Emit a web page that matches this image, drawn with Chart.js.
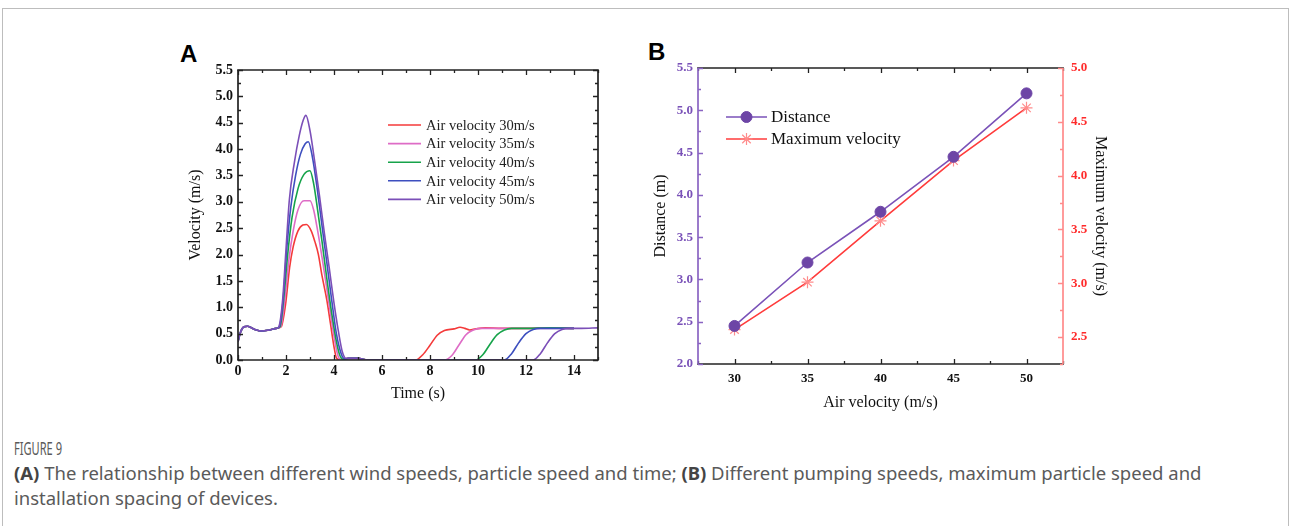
<!DOCTYPE html>
<html>
<head>
<meta charset="utf-8">
<script src="https://cdn.jsdelivr.net/npm/chart.js@4.4.1/dist/chart.umd.min.js"></script>
<style>
  body { margin: 0; width: 1290px; height: 526px; overflow: hidden; position: relative; background: #fff; }
  .frame { position: absolute; left: 2px; top: 8px; width: 1285px; height: 560px; border: 1px solid #bdbdbd; }
  .panel { position: absolute; font-family: 'Liberation Sans', Arial, sans-serif; font-weight: bold; font-size: 24px; color: #000; line-height: 1; }
  canvas { position: absolute; }
  .caption { position: absolute; left: 14px; top: 435px; color: #5a5a5a; font-family: 'Noto Sans', sans-serif; font-size: 18.5px; line-height: 25px; }
  .caption .fig { display: inline-block; font-size: 18.5px; transform: scaleX(0.6); transform-origin: 0 50%; }
  .caption b { color: #444; }
</style>
</head>
<body>
<div class="frame"></div>
<div class="panel" style="left:180px; top:42px;">A</div>
<div class="panel" style="left:648px; top:40px;">B</div>
<canvas id="chartA" width="450" height="380" style="left:170px; top:40px;"></canvas>
<canvas id="chartB" width="500" height="380" style="left:640px; top:40px;"></canvas>
<div class="caption">
  <div class="fig">FIGURE 9</div>
  <div><b>(A)</b> The relationship between different wind speeds, particle speed and time; <b>(B)</b> Different pumping speeds, maximum particle speed and<br>installation spacing of devices.</div>
</div>
<script>
// ---- panel A: particle velocity over time, one curve per air velocity ----
const namesA = ['Air velocity 30m/s', 'Air velocity 35m/s', 'Air velocity 40m/s', 'Air velocity 45m/s', 'Air velocity 50m/s'];

const t30 = [0, 0.1, 0.25, 0.4, 0.7, 1.0, 1.3, 1.6, 1.8, 1.98, 2.15, 2.3, 2.5, 2.7, 2.85, 3.05, 3.2, 3.35, 3.5, 3.7, 3.85, 4.0, 4.1, 4.25, 4.6, 5.0, 5.4, 6.0, 7.0, 7.4, 7.7, 8.0, 8.3, 8.6, 9.0, 9.25, 9.45, 9.65, 9.9, 10.3, 11.0, 12.0, 13.0, 14.0];
const v30 = [0.35, 0.52, 0.63, 0.64, 0.58, 0.55, 0.57, 0.6, 0.63, 1.05, 1.75, 2.15, 2.45, 2.56, 2.57, 2.45, 2.25, 2.0, 1.6, 1.14, 0.7, 0.25, 0.04, 0, 0.03, 0.03, 0, 0, 0, 0, 0.1, 0.28, 0.47, 0.56, 0.59, 0.62, 0.6, 0.57, 0.59, 0.61, 0.6, 0.6, 0.61, 0.6];

const t35 = [0, 0.1, 0.25, 0.4, 0.7, 1.0, 1.3, 1.6, 1.78, 1.95, 2.12, 2.3, 2.5, 2.75, 3.0, 3.15, 3.3, 3.5, 3.75, 3.95, 4.1, 4.2, 4.35, 4.6, 5.0, 5.4, 6.0, 7.0, 8.0, 8.6, 8.9, 9.2, 9.5, 9.8, 10.1, 10.5, 11.0, 12.0, 13.0, 14.0];
const v35 = [0.35, 0.52, 0.63, 0.64, 0.58, 0.55, 0.57, 0.6, 0.63, 1.14, 1.9, 2.45, 2.85, 3.02, 3.02, 2.85, 2.5, 1.95, 1.2, 0.6, 0.2, 0.04, 0, 0.03, 0.03, 0, 0, 0, 0, 0, 0.08, 0.28, 0.48, 0.57, 0.6, 0.6, 0.6, 0.6, 0.6, 0.6];

const t40 = [0, 0.1, 0.25, 0.4, 0.7, 1.0, 1.3, 1.6, 1.75, 1.9, 2.07, 2.25, 2.5, 2.75, 3.0, 3.15, 3.3, 3.5, 3.7, 3.9, 4.1, 4.25, 4.4, 4.6, 5.0, 5.4, 6.0, 7.0, 8.0, 9.0, 9.9, 10.2, 10.5, 10.8, 11.1, 11.4, 12.0, 13.0, 14.0];
const v40 = [0.35, 0.52, 0.63, 0.64, 0.58, 0.55, 0.57, 0.6, 0.63, 1.14, 2.0, 2.7, 3.25, 3.52, 3.59, 3.35, 2.9, 2.25, 1.55, 0.9, 0.35, 0.08, 0.01, 0.03, 0.03, 0, 0, 0, 0, 0, 0, 0.1, 0.3, 0.48, 0.57, 0.6, 0.6, 0.61, 0.6];

const t45 = [0, 0.1, 0.25, 0.4, 0.7, 1.0, 1.3, 1.6, 1.72, 1.88, 2.03, 2.2, 2.4, 2.6, 2.8, 2.93, 3.1, 3.3, 3.5, 3.7, 3.9, 4.1, 4.3, 4.45, 4.6, 5.0, 5.4, 6.0, 7.0, 8.0, 9.0, 10.0, 11.1, 11.4, 11.7, 12.0, 12.3, 12.6, 13.0, 14.0];
const v45 = [0.35, 0.52, 0.63, 0.64, 0.58, 0.55, 0.57, 0.6, 0.63, 1.14, 2.1, 2.9, 3.5, 3.9, 4.1, 4.14, 3.85, 3.25, 2.55, 1.85, 1.15, 0.5, 0.12, 0.02, 0.03, 0.03, 0, 0, 0, 0, 0, 0, 0, 0.12, 0.33, 0.5, 0.58, 0.6, 0.6, 0.6];

const t50 = [0, 0.1, 0.25, 0.4, 0.7, 1.0, 1.3, 1.6, 1.7, 1.86, 2.0, 2.14, 2.35, 2.55, 2.72, 2.83, 3.0, 3.2, 3.4, 3.6, 3.8, 4.0, 4.2, 4.35, 4.5, 4.6, 5.0, 5.4, 6.0, 7.0, 8.0, 9.0, 10.0, 11.0, 12.3, 12.6, 12.9, 13.2, 13.5, 13.8, 14.3, 15.0];
const v50 = [0.35, 0.52, 0.63, 0.64, 0.58, 0.55, 0.57, 0.6, 0.63, 1.14, 2.1, 3.04, 3.75, 4.25, 4.55, 4.64, 4.35, 3.75, 3.1, 2.4, 1.75, 1.08, 0.5, 0.15, 0.03, 0.03, 0.03, 0, 0, 0, 0, 0, 0, 0, 0, 0.12, 0.33, 0.5, 0.58, 0.6, 0.6, 0.61];

const timeTicks = [0, 2, 4, 6, 8, 10, 12, 14];
const timeMinor = [1, 3, 5, 7, 9, 11, 13, 15];
const velTicks = [0, 0.5, 1, 1.5, 2, 2.5, 3, 3.5, 4, 4.5, 5, 5.5];
const velMinor = [0.25, 0.75, 1.25, 1.75, 2.25, 2.75, 3.25, 3.75, 4.25, 4.75, 5.25];

// ---- panel B: distance and max velocity vs air velocity ----
const airVel = [30, 35, 40, 45, 50];
const distance = [2.45, 3.2, 3.8, 4.45, 5.2];
const maxVel = [2.57, 3.01, 3.58, 4.14, 4.63];
const namesB = ['Distance', 'Maximum velocity'];

const airTicks = [30, 35, 40, 45, 50];
const airMinor = [27.5, 32.5, 37.5, 42.5, 47.5, 52.5];
const distTicks = [2, 2.5, 3, 3.5, 4, 4.5, 5, 5.5];
const distMinor = [2.25, 2.75, 3.25, 3.75, 4.25, 4.75, 5.25];
const mvTicks = [2.5, 3, 3.5, 4, 4.5, 5];
const mvMinor = [2.25, 2.75, 3.25, 3.75, 4.25, 4.75];

const SERIF = "'Liberation Serif', 'Times New Roman', serif";
const colorsA = ['#f43a3a', '#de6cc6', '#16a34a', '#3d4fbf', '#7b4fb8'];
const PURPLE = '#6d45a6';
const RED = '#ff3b3b';

const pts = (xs, ys) => xs.map((x, i) => ({ x: x, y: ys[i] }));
const fixTicks = (list) => (scale) => { scale.ticks = list.map(v => ({ value: v })); };

// box line + inward tick marks, drawn by hand to get the Origin look
function drawSide(chart, side, scale, majors, minors, color) {
  const ctx = chart.ctx;
  const a = chart.chartArea;
  ctx.save();
  ctx.strokeStyle = color;
  ctx.lineWidth = 1.7;
  ctx.beginPath();
  if (side === 'bottom') { ctx.moveTo(a.left - 0.85, a.bottom); ctx.lineTo(a.right + 0.85, a.bottom); }
  if (side === 'top') { ctx.moveTo(a.left - 0.85, a.top); ctx.lineTo(a.right + 0.85, a.top); }
  if (side === 'left') { ctx.moveTo(a.left, a.top); ctx.lineTo(a.left, a.bottom); }
  if (side === 'right') { ctx.moveTo(a.right, a.top); ctx.lineTo(a.right, a.bottom); }
  ctx.stroke();
  ctx.lineWidth = 1.3;
  ctx.beginPath();
  const mark = (v, len) => {
    const p = Math.round(scale.getPixelForValue(v)) + 0.5;
    if (side === 'bottom') { ctx.moveTo(p, a.bottom); ctx.lineTo(p, a.bottom - len); }
    if (side === 'top') { ctx.moveTo(p, a.top); ctx.lineTo(p, a.top + len); }
    if (side === 'left') { ctx.moveTo(a.left, p); ctx.lineTo(a.left + len, p); }
    if (side === 'right') { ctx.moveTo(a.right, p); ctx.lineTo(a.right - len, p); }
  };
  majors.forEach(v => mark(v, 5));
  minors.forEach(v => mark(v, 3));
  ctx.stroke();
  ctx.restore();
}

const frameA = {
  id: 'frameA',
  afterDatasetsDraw(chart) {
    const x = chart.scales.x, y = chart.scales.y;
    drawSide(chart, 'bottom', x, timeTicks, timeMinor, '#222');
    drawSide(chart, 'top', x, timeTicks, timeMinor, '#222');
    drawSide(chart, 'left', y, velTicks, velMinor, '#222');
    drawSide(chart, 'right', y, velTicks, velMinor, '#222');
  },
  afterDraw(chart) {
    const ctx = chart.ctx;
    ctx.save();
    ctx.font = '14.5px ' + SERIF;
    ctx.textBaseline = 'middle';
    chart.data.datasets.forEach((ds, i) => {
      const yy = 85 + i * 18.6;
      ctx.strokeStyle = ds.borderColor;
      ctx.lineWidth = 1.6;
      ctx.beginPath();
      ctx.moveTo(218, yy);
      ctx.lineTo(251, yy);
      ctx.stroke();
      ctx.fillStyle = '#222';
      ctx.fillText(ds.label, 256, yy + 1);
    });
    ctx.restore();
  }
};

const frameB = {
  id: 'frameB',
  afterDatasetsDraw(chart) {
    const x = chart.scales.x, y = chart.scales.y, y2 = chart.scales.y2;
    drawSide(chart, 'bottom', x, airTicks, airMinor, '#222');
    drawSide(chart, 'top', x, airTicks, airMinor, '#222');
    drawSide(chart, 'left', y, distTicks, distMinor, '#8a64c2');
    drawSide(chart, 'right', y2, mvTicks, mvMinor, '#ff8a8a');
  },
  afterDraw(chart) {
    const ctx = chart.ctx;
    ctx.save();
    ctx.font = '17px ' + SERIF;
    ctx.textBaseline = 'middle';
    chart.data.datasets.forEach((ds, i) => {
      const yy = 77 + i * 22;
      ctx.strokeStyle = ds.borderColor;
      ctx.lineWidth = 1.6;
      ctx.beginPath();
      ctx.moveTo(86, yy);
      ctx.lineTo(127, yy);
      ctx.stroke();
      ctx.fillStyle = ds.pointBackgroundColor;
      ctx.strokeStyle = ds.pointBorderColor;
      ctx.lineWidth = ds.pointBorderWidth;
      Chart.helpers.drawPoint(ctx, {
        pointStyle: ds.pointStyle, radius: ds.pointRadius, borderWidth: ds.pointBorderWidth, rotation: 0
      }, 106.5, yy);
      ctx.fillStyle = '#111';
      ctx.fillText(ds.label, 131, yy + 1);
    });
    ctx.restore();
  }
};

const tickFontA = { family: SERIF, weight: 'bold', size: 14 };
const tickFontB = { family: SERIF, weight: 'bold', size: 13 };
const titleFont = { family: SERIF, size: 16 };

new Chart(document.getElementById('chartA'), {
  type: 'line',
  data: {
    datasets: [
      { label: namesA[0], data: pts(t30, v30), borderColor: colorsA[0], order: 5 },
      { label: namesA[1], data: pts(t35, v35), borderColor: colorsA[1], order: 4 },
      { label: namesA[2], data: pts(t40, v40), borderColor: colorsA[2], order: 3 },
      { label: namesA[3], data: pts(t45, v45), borderColor: colorsA[3], order: 2 },
      { label: namesA[4], data: pts(t50, v50), borderColor: colorsA[4], order: 1 }
    ]
  },
  options: {
    responsive: false,
    animation: false,
    layout: { padding: { top: 30, right: 22, left: 0, bottom: 0 } },
    elements: {
      point: { radius: 0 },
      line: { borderWidth: 1.6, cubicInterpolationMode: 'monotone', fill: false }
    },
    plugins: { legend: { display: false }, tooltip: { enabled: false } },
    scales: {
      x: {
        type: 'linear', min: 0, max: 15,
        afterBuildTicks: fixTicks(timeTicks),
        afterFit: (s) => { s.height = 60; },
        grid: { display: false, drawTicks: false },
        border: { display: false },
        ticks: { font: tickFontA, color: '#111', padding: 3, maxRotation: 0, autoSkip: false },
        title: { display: true, text: 'Time (s)', font: titleFont, color: '#111', padding: { top: 17, bottom: 17 } }
      },
      y: {
        type: 'linear', min: 0, max: 5.5,
        afterBuildTicks: fixTicks(velTicks),
        afterFit: (s) => { s.width = 68; },
        grid: { display: false, drawTicks: false },
        border: { display: false },
        ticks: { font: tickFontA, color: '#111', padding: 5, callback: (v) => v.toFixed(1) },
        title: { display: true, text: 'Velocity (m/s)', font: titleFont, color: '#111', padding: { top: 16, bottom: 16 } }
      }
    }
  },
  plugins: [frameA]
});

new Chart(document.getElementById('chartB'), {
  type: 'line',
  data: {
    labels: airVel,
    datasets: [
      {
        label: namesB[0], data: pts(airVel, distance), yAxisID: 'y',
        borderColor: '#7a52b8', borderWidth: 1.6,
        pointStyle: 'circle', pointRadius: 5.5, pointBackgroundColor: PURPLE, pointBorderColor: PURPLE, pointBorderWidth: 1
      },
      {
        label: namesB[1], data: pts(airVel, maxVel), yAxisID: 'y2',
        borderColor: RED, borderWidth: 1.6,
        pointStyle: 'star', pointRadius: 6, pointBackgroundColor: '#ff8c8c', pointBorderColor: '#ff8c8c', pointBorderWidth: 1.2
      }
    ]
  },
  options: {
    responsive: false,
    animation: false,
    layout: { padding: { top: 28, right: 0, left: 0, bottom: 0 } },
    elements: { line: { tension: 0, fill: false } },
    plugins: { legend: { display: false }, tooltip: { enabled: false } },
    scales: {
      x: {
        type: 'linear', min: 27.5, max: 52.5,
        afterBuildTicks: fixTicks(airTicks),
        afterFit: (s) => { s.height = 56; },
        grid: { display: false, drawTicks: false },
        border: { display: false },
        ticks: { font: tickFontB, color: '#111', padding: 7, maxRotation: 0, autoSkip: false },
        title: { display: true, text: 'Air velocity (m/s)', font: titleFont, color: '#111', padding: { top: 8, bottom: 8 } }
      },
      y: {
        type: 'linear', position: 'left', min: 2, max: 5.5,
        afterBuildTicks: fixTicks(distTicks),
        afterFit: (s) => { s.width = 58; },
        grid: { display: false, drawTicks: false },
        border: { display: false },
        ticks: { font: tickFontB, color: '#7a52b8', padding: 5, callback: (v) => v.toFixed(1) },
        title: { display: true, text: 'Distance (m)', font: titleFont, color: '#111', padding: { top: 11, bottom: 11 } }
      },
      y2: {
        type: 'linear', position: 'right', min: 2.25, max: 5.0,
        afterBuildTicks: fixTicks(mvTicks),
        afterFit: (s) => { s.width = 77; },
        grid: { display: false, drawTicks: false },
        border: { display: false },
        ticks: { font: tickFontB, color: '#ff2a2a', padding: 8, callback: (v) => v.toFixed(1) },
        title: { display: true, text: 'Maximum velocity (m/s)', font: titleFont, color: '#111', padding: { top: 30, bottom: 30 } }
      }
    }
  },
  plugins: [frameB]
});
</script>
</body>
</html>
